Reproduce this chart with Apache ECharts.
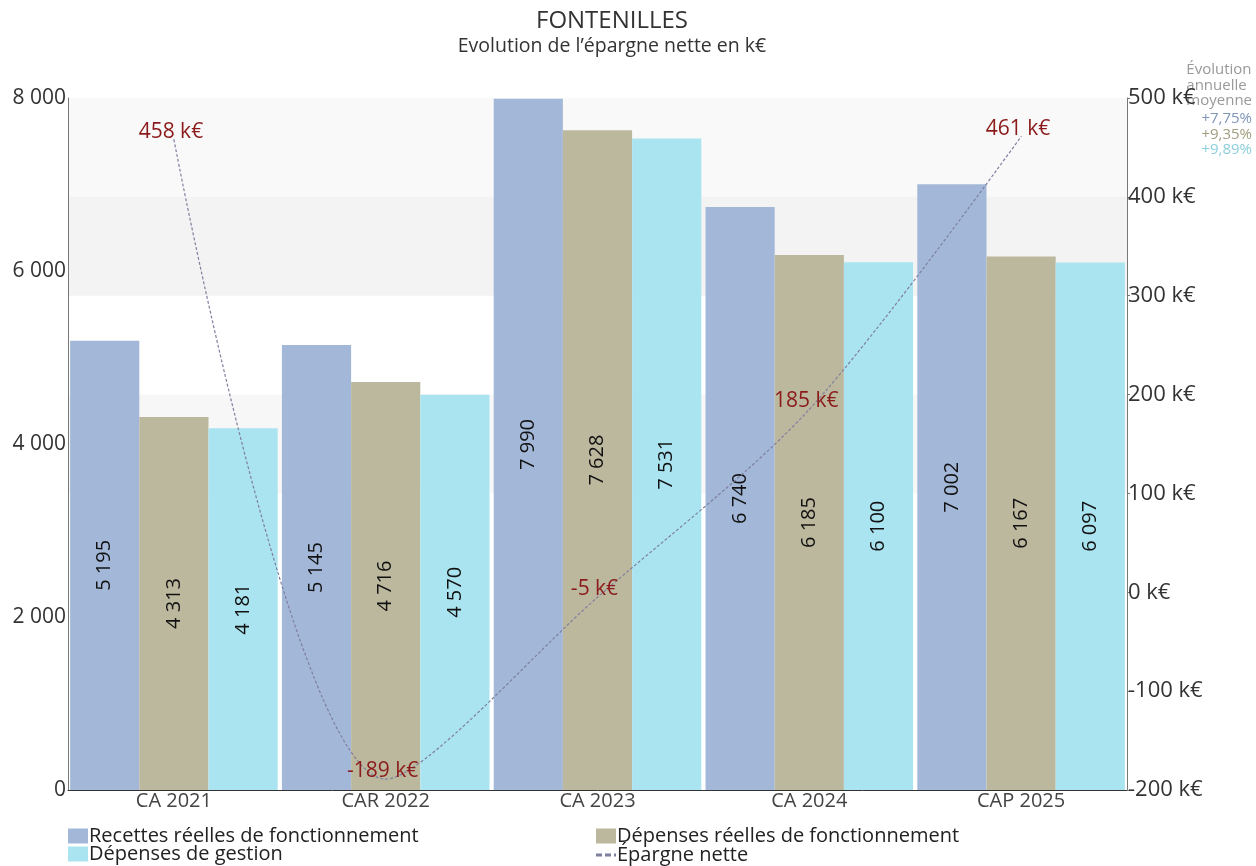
<!DOCTYPE html>
<html>
<head>
<meta charset="utf-8">
<script src="https://cdn.jsdelivr.net/npm/echarts@6/dist/echarts.min.js"></script>
<style>
  html, body { margin: 0; padding: 0; background: #fff; }
  #chart { width: 1256px; height: 866px; }
</style>
</head>
<body>
<div id="chart"></div>
<script>
// Exercices budgétaires
const categories = ['CA 2021', 'CAR 2022', 'CA 2023', 'CA 2024', 'CAP 2025'];

// Montants en k€
const recettesReelles = [5195, 5145, 7990, 6740, 7002];
const depensesReelles = [4313, 4716, 7628, 6185, 6167];
const depensesGestion = [4181, 4570, 7531, 6100, 6097];
const epargneNette = [458, -189, -5, 185, 461];

// Evolution annuelle moyenne (ordre : recettes, dépenses réelles, gestion)
const evolutionLabels = ['+7,75%', '+9,35%', '+9,89%'];

const FONT = '"Open Sans", "Noto Sans", sans-serif';
const COLORS = {
  recettes: '#a3b8d8',
  depReelles: '#bcb89e',
  gestion: '#aae4f1',
  epargne: '#7f7f9f',
  label: '#8b1a1a'
};

const fmt = v => String(Math.round(v)).replace(/\B(?=(\d{3})+(?!\d))/g, ' ');

const chart = echarts.init(document.getElementById('chart'), null, { renderer: 'canvas' });

const barLabel = {
  show: true,
  position: 'inside',
  rotate: 90,
  fontFamily: FONT,
  fontSize: 20,
  color: '#111',
  formatter: p => fmt(p.value)
};

// One legend block per entry, laid out on two columns
const legendText = { fontFamily: FONT, fontSize: 20, color: '#222', padding: [0, 0, 0, -4] };
const legendItem = (left, top, entry) => ({
  left, top, orient: 'horizontal', padding: 0,
  itemWidth: 20, itemHeight: 15, icon: 'rect',
  textStyle: legendText,
  data: [entry]
});

chart.setOption({
  animation: false,
  backgroundColor: '#fff',
  grid: { left: 68, right: 129, top: 98, bottom: 76, containLabel: false },
  legend: [
    legendItem(68, 826, 'Recettes réelles de fonctionnement'),
    legendItem(68, 844, 'Dépenses de gestion'),
    legendItem(596, 826, 'Dépenses réelles de fonctionnement'),
    legendItem(596, 845, {
      name: 'Épargne nette',
      icon: 'path://M0,9 L6,9 L6,12 L0,12 Z M9,9 L15,9 L15,12 L9,12 Z M18,9 L20,9 L20,12 L18,12 Z',
      itemStyle: { color: COLORS.epargne }
    })
  ],
  xAxis: {
    type: 'category',
    data: categories,
    z: 10,
    axisLine: { lineStyle: { color: '#333' } },
    axisTick: { show: false },
    axisLabel: { fontFamily: FONT, fontSize: 20, color: '#444', margin: 1 }
  },
  yAxis: [
    {
      type: 'value', min: 0, max: 8000, interval: 2000,
      z: 10,
      axisLine: { show: true, lineStyle: { color: '#777' } },
      axisTick: { show: false },
      splitLine: { show: false },
      axisLabel: { fontFamily: FONT, fontSize: 21, color: '#333', margin: 2, formatter: v => fmt(v) }
    },
    {
      type: 'value', min: -200, max: 500, interval: 100, position: 'right',
      z: 10,
      axisLine: { show: true, lineStyle: { color: '#777' } },
      axisTick: { show: true, length: 3, lineStyle: { color: '#777' } },
      splitLine: { show: false },
      axisLabel: { fontFamily: FONT, fontSize: 22, color: '#333', margin: 1, formatter: v => v + ' k€' }
    }
  ],
  series: [
    {
      name: 'Recettes réelles de fonctionnement',
      type: 'bar', data: recettesReelles,
      itemStyle: { color: COLORS.recettes },
      barGap: '0%', barCategoryGap: '2%',
      label: barLabel,
      z: 2
    },
    {
      name: 'Dépenses réelles de fonctionnement',
      type: 'bar', data: depensesReelles,
      itemStyle: { color: COLORS.depReelles },
      label: barLabel,
      z: 2
    },
    {
      name: 'Dépenses de gestion',
      type: 'bar', data: depensesGestion,
      itemStyle: { color: COLORS.gestion },
      label: barLabel,
      z: 2
    },
    {
      name: 'Épargne nette',
      type: 'line', yAxisIndex: 1,
      data: epargneNette,
      smooth: 0.3,
      symbol: 'circle', symbolSize: 1, showSymbol: true,
      itemStyle: { color: COLORS.epargne },
      lineStyle: { color: COLORS.epargne, width: 1.2, type: [3, 2] },
      label: {
        show: true, position: 'inside', offset: [-3, -8],
        fontFamily: FONT, fontSize: 21, color: COLORS.label,
        formatter: p => p.value + ' k€'
      },
      z: 5,
      markArea: {
        silent: true,
        label: { show: false },
        data: [
          [{ yAxis: 400, itemStyle: { color: '#f9f9f9' } }, { yAxis: 500 }],
          [{ yAxis: 300, itemStyle: { color: '#f3f3f3' } }, { yAxis: 400 }],
          [{ yAxis: 100, itemStyle: { color: '#f7f7f7' } }, { yAxis: 200 }]
        ]
      }
    }
  ],
  graphic: [
    {
      type: 'text', x: 612, y: 21,
      style: {
        text: 'FONTENILLES', fontFamily: FONT, fontSize: 24,
        fill: '#333', align: 'center', verticalAlign: 'middle'
      }
    },
    {
      type: 'text', x: 612, y: 46,
      style: {
        text: 'Evolution de l\u2019épargne nette en k€', fontFamily: FONT, fontSize: 19.5,
        fill: '#333', align: 'center', verticalAlign: 'middle'
      }
    },
    {
      type: 'text', right: 4, top: 62,
      style: {
        text: 'Évolution\nannuelle\nmoyenne',
        fontFamily: FONT, fontSize: 15, lineHeight: 15.5,
        fill: '#999', align: 'right'
      },
      z: 10
    },
    {
      type: 'text', right: 4, top: 111,
      style: {
        text: '{a|' + evolutionLabels[0] + '}\n{b|' + evolutionLabels[1] + '}\n{c|' + evolutionLabels[2] + '}',
        fontFamily: FONT, fontSize: 15, lineHeight: 15.5, align: 'right',
        rich: {
          a: { fill: '#7f95b8', fontFamily: FONT, fontSize: 15, lineHeight: 15.5 },
          b: { fill: '#a19d7e', fontFamily: FONT, fontSize: 15, lineHeight: 15.5 },
          c: { fill: '#8ccfdc', fontFamily: FONT, fontSize: 15, lineHeight: 15.5 }
        }
      },
      z: 10
    }
  ]
});
</script>
</body>
</html>
